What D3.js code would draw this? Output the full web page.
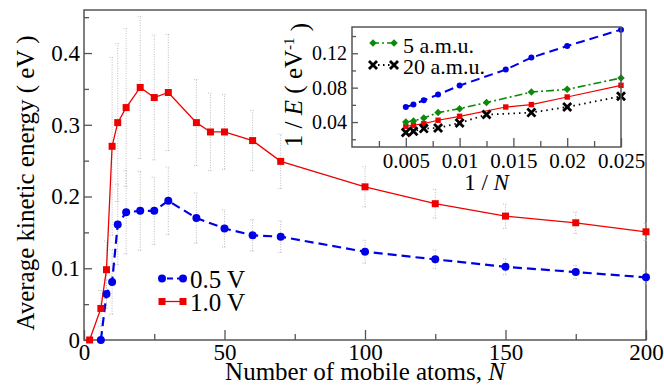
<!DOCTYPE html>
<html lang="en">
<head>
<meta charset="utf-8">
<script src="https://cdn.jsdelivr.net/npm/d3@7"></script>
<style>
  body { margin: 0; background: #fff; }
</style>
<title>Average kinetic energy</title>
</head>
<body>
<div id="chart"></div>
<script>

// main panel: 1.0 V series
const nRed = [2, 6, 8, 10, 12, 15, 20, 25, 30, 40, 45, 50, 60, 70, 100, 125, 150, 175, 200];
const eRed = [0, 0.044, 0.098, 0.270, 0.303, 0.324, 0.352, 0.338, 0.345, 0.303, 0.290, 0.290, 0.278, 0.249, 0.2135, 0.190, 0.1727, 0.1634, 0.1508];
const errRed = [0, 0.025, 0.04, 0.124, 0.11, 0.11, 0.099, 0.087, 0.081, 0.060, 0.054, 0.052, 0.042, 0.038, 0.028, 0.020, 0.017, 0.015, 0.012];

// main panel: 0.5 V series
const nBlue = [6, 8, 10, 12, 15, 20, 25, 30, 40, 50, 60, 70, 100, 125, 150, 175, 200];
const eBlue = [0, 0.064, 0.081, 0.161, 0.178, 0.180, 0.180, 0.194, 0.170, 0.1555, 0.146, 0.144, 0.123, 0.1124, 0.102, 0.0947, 0.0873];
const errBlue = [0, 0.02, 0.045, 0.056, 0.058, 0.055, 0.047, 0.047, 0.035, 0.026, 0.022, 0.022, 0.016, 0.013, 0.011, 0.0093, 0.009];

// inset: 1/E against 1/N
const invN_A = [0.005, 0.00571, 0.00667, 0.008, 0.01, 0.01429, 0.01667, 0.02, 0.025];
const invN_B = [0.005, 0.00571, 0.00667, 0.008, 0.01, 0.0125, 0.01667, 0.02, 0.025];
const invBlue = [0.0575, 0.0603, 0.0653, 0.0719, 0.0824, 0.101, 0.1149, 0.1284, 0.1474];
const invRed = [0.0351, 0.0363, 0.0382, 0.0421, 0.0467, 0.0575, 0.0603, 0.0691, 0.0827];
const invGreen = [0.0401, 0.0413, 0.0447, 0.051, 0.0556, 0.0626, 0.0749, 0.078, 0.0912];
const invBlack = [0.0278, 0.0293, 0.0324, 0.0331, 0.0389, 0.0487, 0.051, 0.0575, 0.07];

// ticks
const xMajor = [0, 50, 100, 150, 200];
const xMinor = [25, 75, 125, 175];
const yMajor = [0, 0.1, 0.2, 0.3, 0.4];
const yMinor = [0.05, 0.15, 0.25, 0.35, 0.45];
const ixMajor = [0.005, 0.01, 0.015, 0.02, 0.025];
const ixMinor = [0.0025, 0.0075, 0.0125, 0.0175, 0.0225];
const iyMajor = [0.04, 0.08, 0.12];
const iyMinor = [0.02, 0.06, 0.10, 0.14];

const blue = "#0000e8", red = "#ee0000", green = "#0a8a0a", axisCol = "#555";
const serif = "'Liberation Serif', 'DejaVu Serif', 'Times New Roman', serif";

const svg = d3.select("#chart")
  .append("svg")
    .attr("width", 664)
    .attr("height", 392)
    .attr("font-family", serif)
    .style("font-family", serif);

const x = d3.scaleLinear().domain([0, 200]).range([84, 646]);
const y = d3.scaleLinear().domain([0, 0.46]).range([340, 10]);

function styleAxis(g, size) {
  g.attr("color", axisCol).attr("font-family", serif).attr("font-size", size);
  g.select(".domain").remove();
  g.selectAll("line").attr("stroke-width", 1.3);
  g.selectAll("text").style("font-family", serif).style("font-size", size + "px").attr("fill", "#000");
}

// main axes
svg.append("g").attr("transform", "translate(0,340)")
  .call(d3.axisBottom(x).tickValues(xMajor).tickSize(-10).tickPadding(4).tickFormat(d => String(d)))
  .call(g => styleAxis(g, 23));
svg.append("g").attr("transform", "translate(0,340)")
  .call(d3.axisBottom(x).tickValues(xMinor).tickSize(-6).tickFormat(""))
  .call(g => styleAxis(g, 23));
svg.append("g").attr("transform", "translate(84,0)")
  .call(d3.axisLeft(y).tickValues(yMajor).tickSize(-8).tickPadding(4).tickFormat(d => String(d)))
  .call(g => styleAxis(g, 23));
svg.append("g").attr("transform", "translate(84,0)")
  .call(d3.axisLeft(y).tickValues(yMinor).tickSize(-5).tickFormat(""))
  .call(g => styleAxis(g, 23));

svg.append("rect")
  .attr("x", 84).attr("y", 10).attr("width", 562).attr("height", 330)
  .attr("fill", "none").attr("stroke", axisCol).attr("stroke-width", 1.5);

svg.append("text")
  .attr("x", 365).attr("y", 380)
  .attr("text-anchor", "middle")
  .style("font-size", "25px")
  .text("Number of mobile atoms, ")
  .append("tspan").style("font-style", "italic").text("N");

svg.append("text")
  .attr("transform", "translate(34,183) rotate(-90)")
  .attr("text-anchor", "middle")
  .style("font-size", "25px")
  .text("Average kinetic energy ( eV )");

// error bars
function errorBars(ns, es, errs) {
  const g = svg.append("g").attr("stroke", "#bcbcbc").attr("stroke-width", 1).attr("stroke-dasharray", "1,1.5");
  ns.forEach((n, i) => {
    if (errs[i] <= 0) return;
    const cx = x(n), y0 = y(es[i] - errs[i]), y1 = y(es[i] + errs[i]);
    g.append("line").attr("x1", cx).attr("x2", cx).attr("y1", y0).attr("y2", y1);
    g.append("line").attr("x1", cx - 2.5).attr("x2", cx + 2.5).attr("y1", y0).attr("y2", y0);
    g.append("line").attr("x1", cx - 2.5).attr("x2", cx + 2.5).attr("y1", y1).attr("y2", y1);
  });
}
errorBars(nRed, eRed, errRed);
errorBars(nBlue, eBlue, errBlue);

const redData = nRed.map((n, i) => ({ n: n, e: eRed[i] }));
const blueData = nBlue.map((n, i) => ({ n: n, e: eBlue[i] }));

svg.append("path")
  .datum(redData)
  .attr("fill", "none").attr("stroke", red).attr("stroke-width", 1.3)
  .attr("d", d3.line().x(d => x(d.n)).y(d => y(d.e)));
svg.append("path")
  .datum(blueData)
  .attr("fill", "none").attr("stroke", blue).attr("stroke-width", 2.2).attr("stroke-dasharray", "9,5")
  .attr("d", d3.line().x(d => x(d.n)).y(d => y(d.e)));

svg.append("g").selectAll("rect")
  .data(redData).enter().append("rect")
    .attr("x", d => x(d.n) - 3.5).attr("y", d => y(d.e) - 3.5)
    .attr("width", 7).attr("height", 7).attr("fill", red);
svg.append("g").selectAll("circle")
  .data(blueData).enter().append("circle")
    .attr("cx", d => x(d.n)).attr("cy", d => y(d.e))
    .attr("r", 4).attr("fill", blue);

// main legend
svg.append("line").attr("x1", 162).attr("x2", 183).attr("y1", 278.5).attr("y2", 278.5)
  .attr("stroke", blue).attr("stroke-width", 2.2).attr("stroke-dasharray", "6,4").attr("stroke-dashoffset", -5);
svg.append("circle").attr("cx", 162).attr("cy", 278.5).attr("r", 4).attr("fill", blue);
svg.append("circle").attr("cx", 183).attr("cy", 278.5).attr("r", 4).attr("fill", blue);
svg.append("text").attr("x", 190).attr("y", 287.5).style("font-size", "25px").text("0.5 V");

svg.append("line").attr("x1", 162).attr("x2", 183).attr("y1", 301.5).attr("y2", 301.5)
  .attr("stroke", red).attr("stroke-width", 1.3);
svg.append("rect").attr("x", 158.5).attr("y", 298).attr("width", 7).attr("height", 7).attr("fill", red);
svg.append("rect").attr("x", 179.5).attr("y", 298).attr("width", 7).attr("height", 7).attr("fill", red);
svg.append("text").attr("x", 190).attr("y", 310.5).style("font-size", "25px").text("1.0 V");

// inset
const ix = d3.scaleLinear().domain([0, 0.025]).range([352, 621]);
const iy = d3.scaleLinear().domain([0.011, 0.1505]).range([147, 27]);

svg.append("rect")
  .attr("x", 352).attr("y", 27).attr("width", 269).attr("height", 120)
  .attr("fill", "#fff");

svg.append("g").attr("transform", "translate(0,147)")
  .call(d3.axisBottom(ix).tickValues(ixMajor).tickSize(-9).tickPadding(6).tickFormat(d => String(d)))
  .call(g => styleAxis(g, 21));
svg.append("g").attr("transform", "translate(0,147)")
  .call(d3.axisBottom(ix).tickValues(ixMinor).tickSize(-6).tickFormat(""))
  .call(g => styleAxis(g, 21));
svg.append("g").attr("transform", "translate(352,0)")
  .call(d3.axisLeft(iy).tickValues(iyMajor).tickSize(-6).tickPadding(5).tickFormat(d => String(d)))
  .call(g => styleAxis(g, 20));
svg.append("g").attr("transform", "translate(352,0)")
  .call(d3.axisLeft(iy).tickValues(iyMinor).tickSize(-4).tickFormat(""))
  .call(g => styleAxis(g, 20));

const inBlue = invN_A.map((u, i) => ({ u: u, v: invBlue[i] }));
const inRed = invN_A.map((u, i) => ({ u: u, v: invRed[i] }));
const inGreen = invN_B.map((u, i) => ({ u: u, v: invGreen[i] }));
const inBlack = invN_B.map((u, i) => ({ u: u, v: invBlack[i] }));
const iline = d3.line().x(d => ix(d.u)).y(d => iy(d.v));

svg.append("path").datum(inBlack)
  .attr("fill", "none").attr("stroke", "#000").attr("stroke-width", 1.8).attr("stroke-dasharray", "1.5,4")
  .attr("d", iline);
svg.append("path").datum(inRed)
  .attr("fill", "none").attr("stroke", red).attr("stroke-width", 1.2)
  .attr("d", iline);
svg.append("path").datum(inGreen)
  .attr("fill", "none").attr("stroke", green).attr("stroke-width", 1.6).attr("stroke-dasharray", "8,3,2,3")
  .attr("d", iline);
svg.append("path").datum(inBlue)
  .attr("fill", "none").attr("stroke", blue).attr("stroke-width", 2).attr("stroke-dasharray", "9,5")
  .attr("d", iline);

svg.append("g").selectAll("circle")
  .data(inBlue).enter().append("circle")
    .attr("cx", d => ix(d.u)).attr("cy", d => iy(d.v)).attr("r", 3).attr("fill", blue);
svg.append("g").selectAll("rect")
  .data(inRed).enter().append("rect")
    .attr("x", d => ix(d.u) - 2.7).attr("y", d => iy(d.v) - 2.7)
    .attr("width", 5.4).attr("height", 5.4).attr("fill", red);
const diamond = d3.symbol(d3.symbolSquare, 28);
svg.append("g").selectAll("path")
  .data(inGreen).enter().append("path")
    .attr("d", diamond)
    .attr("transform", d => `translate(${ix(d.u)},${iy(d.v)}) rotate(45)`)
    .attr("fill", green);
const cross = d3.symbol(d3.symbolX, 44);
svg.append("g").selectAll("path")
  .data(inBlack).enter().append("path")
    .attr("d", cross)
    .attr("transform", d => `translate(${ix(d.u)},${iy(d.v)})`)
    .attr("fill", "none").attr("stroke", "#000").attr("stroke-width", 2.8);

svg.append("rect")
  .attr("x", 352).attr("y", 27).attr("width", 269).attr("height", 120)
  .attr("fill", "none").attr("stroke", axisCol).attr("stroke-width", 1.5);

// inset legend
svg.append("line").attr("x1", 373).attr("x2", 394).attr("y1", 43).attr("y2", 43)
  .attr("stroke", green).attr("stroke-width", 1.6).attr("stroke-dasharray", "6,3,2,3");
svg.append("path").attr("d", diamond).attr("transform", "translate(373,43) rotate(45)").attr("fill", green);
svg.append("path").attr("d", diamond).attr("transform", "translate(394,43) rotate(45)").attr("fill", green);
svg.append("text").attr("x", 403).attr("y", 53).style("font-size", "22px").text("5 a.m.u.");

svg.append("line").attr("x1", 373).attr("x2", 394).attr("y1", 65).attr("y2", 65)
  .attr("stroke", "#000").attr("stroke-width", 1.8).attr("stroke-dasharray", "1.5,3.5");
svg.append("path").attr("d", cross).attr("transform", "translate(373,65)")
  .attr("fill", "none").attr("stroke", "#000").attr("stroke-width", 2.8);
svg.append("path").attr("d", cross).attr("transform", "translate(394,65)")
  .attr("fill", "none").attr("stroke", "#000").attr("stroke-width", 2.8);
svg.append("text").attr("x", 403).attr("y", 74).style("font-size", "22px").text("20 a.m.u.");

// inset labels
const ixl = svg.append("text")
  .attr("x", 486.5).attr("y", 190)
  .attr("text-anchor", "middle")
  .style("font-size", "23px")
  .text("1 / ");
ixl.append("tspan").style("font-style", "italic").text("N");

const iyl = svg.append("text")
  .attr("transform", "translate(302,85) rotate(-90)")
  .attr("text-anchor", "middle")
  .style("font-size", "25px")
  .text("1 / ");
iyl.append("tspan").style("font-style", "italic").text("E");
iyl.append("tspan").text(" ( eV");
iyl.append("tspan").attr("dy", "-0.55em").style("font-size", "15px").text("-1");
iyl.append("tspan").attr("dy", "0.55em").text(" )");

</script>
</body>
</html>
